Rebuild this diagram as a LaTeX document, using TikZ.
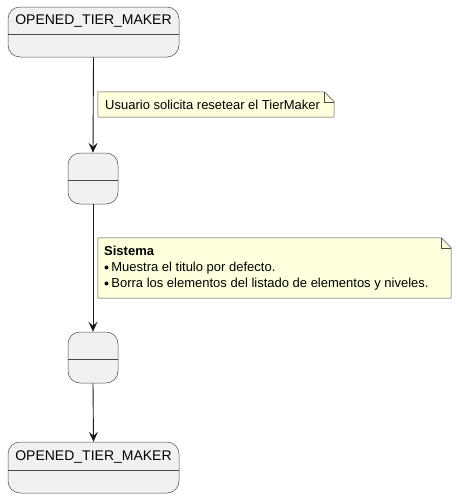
\documentclass[tikz,border=0pt]{standalone}
\usepackage{fontspec}
\setmainfont{Liberation Sans}
\definecolor{statefill}{HTML}{F1F1F1}
\definecolor{notefill}{HTML}{FEFFDD}
\definecolor{linecol}{HTML}{181818}
\definecolor{bordercol}{HTML}{4A4A4A}
\usetikzlibrary{arrows.meta, positioning, calc}
\tikzset{
  statebox/.style={draw=bordercol, fill=statefill, rounded corners=12pt, line width=0.5pt, inner sep=0pt},
  divider/.style={draw=bordercol, line width=0.5pt},
  statename/.style={font=\fontsize{14}{16}\selectfont, text=black, inner sep=0pt},
  notebox/.style={draw=bordercol, fill=notefill, line width=0.5pt},
  notetext/.style={font=\fontsize{13}{16}\selectfont, align=left, anchor=west, inner sep=0pt},
  trans/.style={-{Stealth[length=10pt, width=9pt, inset=4pt]}, draw=linecol, line width=0.9pt}
}
\newcommand{\notebullet}{{\fontsize{10}{10}\selectfont\raisebox{0.5pt}{$\bullet$}}\,}
\begin{document}
\begin{tikzpicture}[x=1pt, y=-1pt]
  \useasboundingbox (0,0) rectangle (456,498);

  % States
  \node[statebox, minimum width=171pt, minimum height=50pt] (open1) at (93.5,32) {};
  \draw[divider] (open1.west |- 0,34) -- (open1.east |- 0,34);
  \node[statename] (open1name) at (93.5,21) {OPENED\_TIER\_MAKER};

  \node[statebox, minimum width=50pt, minimum height=51pt] (reset1) at (93,178.5) {};
  \draw[divider] (reset1.west |- 0,180) -- (reset1.east |- 0,180);

  \node[statebox, minimum width=50pt, minimum height=51pt] (reset2) at (93,357.5) {};
  \draw[divider] (reset2.west |- 0,359) -- (reset2.east |- 0,359);

  \node[statebox, minimum width=171pt, minimum height=51pt] (open2) at (93.5,467.5) {};
  \draw[divider] (open2.west |- 0,470) -- (open2.east |- 0,470);
  \node[statename] (open2name) at (93.5,457) {OPENED\_TIER\_MAKER};

  % Transitions
  \draw[trans] (open1.south) -- (reset1.north);
  \draw[trans] (reset1.south) -- (reset2.north);
  \draw[trans] (reset2.south) -- (open2.north);

  % Notes
  \node[minimum width=236pt, minimum height=25pt, inner sep=0pt] (note1) at (216,104.5) {};
  \draw[notebox] (note1.north west) -- ([xshift=-10pt]note1.north east) -- ([yshift=-10pt]note1.north east)
    -- (note1.south east) -- (note1.south west) -- cycle;
  \draw[notebox, fill=none] ([xshift=-10pt]note1.north east) -- ([xshift=-10pt, yshift=-10pt]note1.north east) -- ([yshift=-10pt]note1.north east);
  \node[notetext] (note1text) at (105,104.5) {Usuario solicita resetear el TierMaker};

  \node[minimum width=353pt, minimum height=60pt, inner sep=0pt] (note2) at (274.5,268) {};
  \draw[notebox] (note2.north west) -- ([xshift=-10pt]note2.north east) -- ([yshift=-10pt]note2.north east)
    -- (note2.south east) -- (note2.south west) -- cycle;
  \draw[notebox, fill=none] ([xshift=-10pt]note2.north east) -- ([xshift=-10pt, yshift=-10pt]note2.north east) -- ([yshift=-10pt]note2.north east);
  \node[notetext] (note2text) at (104,268) {\textbf{Sistema}\\
    \notebullet Muestra el titulo por defecto.\\
    \notebullet Borra los elementos del listado de elementos y niveles.};
\end{tikzpicture}
\end{document}
